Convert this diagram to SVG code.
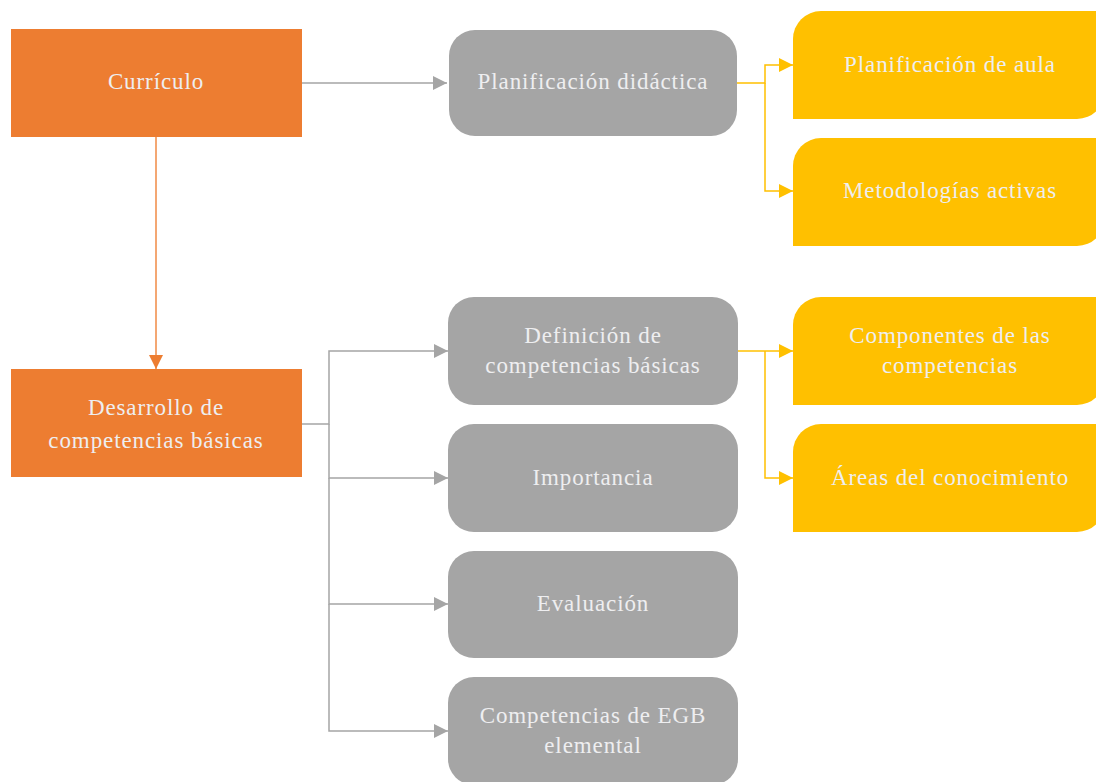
<svg xmlns="http://www.w3.org/2000/svg" width="1096" height="782" viewBox="0 0 1096 782">
<defs>
<style>
.t{font-family:'Liberation Serif','Times New Roman','DejaVu Serif',serif;font-size:23px;fill:#EEEEF0;text-anchor:middle;letter-spacing:0.9px}
.o{fill:#ED7D31}
.g{fill:#A5A5A5}
.y{fill:#FFC000}
.lg{stroke:#A5A5A5;stroke-width:1.5;fill:none}
.lo{stroke:#F08A45;stroke-width:1.5;fill:none}
.ly{stroke:#FFC000;stroke-width:1.5;fill:none}
</style>
<marker id="ag" markerUnits="userSpaceOnUse" markerWidth="14" markerHeight="14" refX="14" refY="7" orient="auto"><path d="M0,0 L14,7 L0,14 Z" fill="#A5A5A5"/></marker>
<marker id="ao" markerUnits="userSpaceOnUse" markerWidth="14" markerHeight="14" refX="14" refY="7" orient="auto"><path d="M0,0 L14,7 L0,14 Z" fill="#ED7D31"/></marker>
<marker id="ay" markerUnits="userSpaceOnUse" markerWidth="14" markerHeight="14" refX="14" refY="7" orient="auto"><path d="M0,0 L14,7 L0,14 Z" fill="#FFC000"/></marker>
</defs>
<rect width="1096" height="782" fill="#FFFFFF"/>
<g id="connectors">
<path class="lg" d="M302,83 H447" marker-end="url(#ag)"/>
<path class="lo" d="M156,137 V369" marker-end="url(#ao)"/>
<path class="ly" d="M737,83 H765 V65 H793" marker-end="url(#ay)"/>
<path class="ly" d="M765,83 V191 H793" marker-end="url(#ay)"/>
<path class="lg" d="M302,424 H329 V351 H448" marker-end="url(#ag)"/>
<path class="lg" d="M329,424 V478 H448" marker-end="url(#ag)"/>
<path class="lg" d="M329,478 V604 H448" marker-end="url(#ag)"/>
<path class="lg" d="M329,604 V731 H448" marker-end="url(#ag)"/>
<path class="ly" d="M738,351 H793" marker-end="url(#ay)"/>
<path class="ly" d="M765,351 V478 H793" marker-end="url(#ay)"/>
</g>
<g id="curriculo"><rect class="o" x="11" y="29" width="291" height="108"/><text class="t" x="156" y="89" font-family="Liberation Serif, serif">Currículo</text></g>
<g id="desarrollo"><rect class="o" x="11" y="369" width="291" height="108"/><text class="t" x="156" y="415" font-family="Liberation Serif, serif">Desarrollo de</text><text class="t" x="156" y="448" font-family="Liberation Serif, serif">competencias básicas</text></g>
<g id="planificacion"><rect class="g" x="449" y="30" width="288" height="106" rx="26"/><text class="t" x="593" y="89" font-family="Liberation Serif, serif">Planificación didáctica</text></g>
<g id="definicion"><rect class="g" x="448" y="297" width="290" height="108" rx="26"/><text class="t" x="593" y="343" font-family="Liberation Serif, serif">Definición de</text><text class="t" x="593" y="373" font-family="Liberation Serif, serif">competencias básicas</text></g>
<g id="importancia"><rect class="g" x="448" y="424" width="290" height="108" rx="26"/><text class="t" x="593" y="485" font-family="Liberation Serif, serif">Importancia</text></g>
<g id="evaluacion"><rect class="g" x="448" y="551" width="290" height="107" rx="26"/><text class="t" x="593" y="611" font-family="Liberation Serif, serif">Evaluación</text></g>
<g id="egb"><rect class="g" x="448" y="677" width="290" height="108" rx="26"/><text class="t" x="593" y="723" font-family="Liberation Serif, serif">Competencias de EGB</text><text class="t" x="593" y="753" font-family="Liberation Serif, serif">elemental</text></g>
<g id="aula"><path class="y" d="M821,11 H1105 V91 A28,28 0 0 1 1077,119 H793 V39 A28,28 0 0 1 821,11 Z"/><text class="t" x="950" y="72" font-family="Liberation Serif, serif">Planificación de aula</text></g>
<g id="metodologias"><path class="y" d="M821,138 H1105 V218 A28,28 0 0 1 1077,246 H793 V166 A28,28 0 0 1 821,138 Z"/><text class="t" x="950" y="198" font-family="Liberation Serif, serif">Metodologías activas</text></g>
<g id="componentes"><path class="y" d="M821,297 H1105 V377 A28,28 0 0 1 1077,405 H793 V325 A28,28 0 0 1 821,297 Z"/><text class="t" x="950" y="343" font-family="Liberation Serif, serif">Componentes de las</text><text class="t" x="950" y="373" font-family="Liberation Serif, serif">competencias</text></g>
<g id="areas"><path class="y" d="M821,424 H1105 V504 A28,28 0 0 1 1077,532 H793 V452 A28,28 0 0 1 821,424 Z"/><text class="t" x="950" y="485" font-family="Liberation Serif, serif">Áreas del conocimiento</text></g>
</svg>
